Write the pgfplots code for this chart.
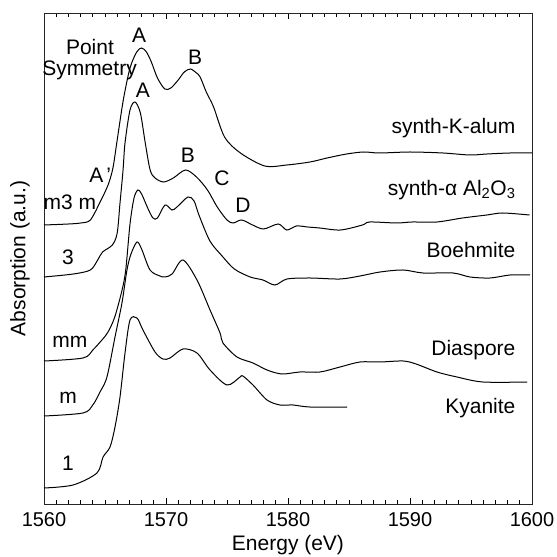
\documentclass[border=0pt]{standalone}
\usepackage{fontspec}
\setmainfont{Liberation Sans}
\usepackage{pgfplots}
\pgfplotsset{compat=1.18}
\begin{document}
\begin{tikzpicture}[font=\fontsize{21bp}{24bp}\selectfont]
\begin{axis}[
  scale only axis, width=488bp, height=491bp,
  at={(0,0)}, anchor=south west,
  xmin=1560, xmax=1600, ymin=0, ymax=491,
  xtick={1560,1570,1580,1590,1600},
  minor x tick num=9,
  ytick=\empty,
  tick align=inside,
  xtick pos=both,
  major tick length=6bp, minor tick length=4bp,
  every tick/.style={black, line width=0.7bp},
  axis line style={line width=0.9bp, black!85},
  /pgf/number format/1000 sep={},
  /pgf/number format/assume math mode=true,
  xticklabel style={yshift=-5bp, font=\fontsize{20bp}{23bp}\selectfont},
  clip=false,
  every axis plot post/.append style={black, line width=1bp, smooth, tension=0.5, mark=none},
]
% synth-K-alum
\addplot coordinates {
(1560,279)(1562,280)(1563,281)(1563.8,284)(1564.6,302)(1565.25,319)(1565.65,336)
(1566.0,364)(1566.5,404)(1567.05,436)(1567.6,452)(1568.0,456)(1568.4,452)(1568.8,442)
(1569.3,426)(1569.9,415)(1570.4,416)(1571.0,424)(1571.5,432)(1572.0,435)(1572.5,431)
(1572.8,427)(1573.3,412)(1573.9,397)(1574.8,367)(1576.1,351)(1578.1,338)(1579.9,339)
(1581.8,342)(1583.2,346)(1584.8,350)(1586.2,352)(1587.5,351)(1590.0,352)(1592.7,351)
(1594.9,349)(1596.3,350)(1598.2,351)(1600,351)};
% synth-alpha Al2O3
\addplot coordinates {
(1560,227)(1562.4,230)(1563.8,234)(1564.4,244)(1564.8,252)(1565.6,259)(1566.0,271)
(1566.23,301)(1566.48,334)(1566.64,361)(1567.05,394)(1567.46,402)(1567.9,391)(1568.3,361)
(1568.7,334)(1569.1,326)(1569.8,322)(1570.6,326)(1571.6,334)(1572.5,327)(1573.4,314)
(1574.2,297)(1575.0,284)(1575.5,281)(1576.2,284)(1577.1,279)(1578.0,275)(1579.2,280)
(1579.9,274)(1580.7,278)(1581.6,277)(1582.6,276)(1584.3,274)(1586.1,279)(1586.7,282)
(1588.9,281)(1590.2,282)(1592.2,282)(1594.3,286)(1596.3,289)(1597.6,291)(1599.8,289)};
% Boehmite
\addplot coordinates {
(1560,143)(1563.2,146)(1564.0,154)(1564.75,164)(1565.25,172)(1565.8,187)(1566.4,214)
(1566.7,234)(1567.05,280)(1567.38,306)(1567.7,314)(1568.0,310)(1568.5,296)(1568.93,286)
(1569.3,286)(1569.92,299)(1570.49,294)(1570.9,297)(1571.8,307)(1572.3,303)(1572.7,289)
(1573.6,263)(1574.6,248)(1575.6,235)(1576.9,227)(1577.95,224)(1578.93,219)(1579.92,225)
(1581.8,226)(1584.26,225)(1585.9,228)(1587.54,232)(1589.43,234)(1591.07,231)(1593.52,231)
(1594.92,227)(1596.56,226)(1598.2,229)(1599.84,229)};
% Diaspore
\addplot coordinates {
(1560,88)(1563.2,91)(1564.0,99)(1564.59,112)(1565.16,127)(1565.82,167)(1566.39,201)
(1566.8,234)(1567.13,250)(1567.62,262)(1568.0,255)(1568.69,234)(1569.5,228)(1569.92,227)
(1570.5,230)(1571.39,244)(1572.54,224)(1573.61,194)(1574.43,171)(1574.67,161)
(1575.82,147)(1577.13,141)(1578.28,134)(1579.5,130)(1580.98,132)(1582.62,132)(1584.26,137)
(1585.9,142)(1587.54,142)(1589.43,143)(1590.5,140)(1592.21,132)(1593.85,127)
(1595.98,122)(1599.6,122)};
% Kyanite
\addplot coordinates {
(1560,16)(1562.38,19)(1564.34,31)(1564.84,47)(1565.41,57)(1565.82,77)(1566.23,107)
(1566.64,151)(1567.05,184)(1567.62,186)(1568.11,174)(1569.1,152)(1569.75,145)(1570.33,146)
(1571.39,155)(1572.54,151)(1573.61,134)(1575.0,119)(1576.07,127)(1576.3,128)(1577.13,119)
(1578.28,104)(1579.34,99)(1580.41,99)(1581.8,97)(1584.84,97)};
% annotations
\node at (axis cs:1563.77,457) {Point};
\node at (axis cs:1563.73,434) {Symmetry};
\node at (axis cs:1567.79,469) {A};
\node at (axis cs:1572.38,447) {B};
\node at (axis cs:1568.11,414) {A};
\node at (axis cs:1571.8,349) {B};
\node at (axis cs:1574.59,326) {C};
\node at (axis cs:1576.31,299) {D};
\node at (axis cs:1564.6,329) {A\hspace{3bp}'};
\node at (axis cs:1562.13,302) {m3 m};
\node at (axis cs:1561.97,247) {3};
\node at (axis cs:1562.13,162) {mm};
\node at (axis cs:1561.97,106) {m};
\node at (axis cs:1561.97,41) {1};
\node[anchor=east] at (axis cs:1598.93,376) {synth-K-alum};
\node[anchor=east] at (axis cs:1598.93,314) {synth-α Al\textsubscript{2}O\textsubscript{3}};
\node[anchor=east] at (axis cs:1598.93,254) {Boehmite};
\node[anchor=east] at (axis cs:1598.93,154) {Diaspore};
\node[anchor=east] at (axis cs:1598.93,96) {Kyanite};
\node at ([yshift=-41bp]rel axis cs:0.5,0) {Energy (eV)};
\node[rotate=90] at ([xshift=-24bp]rel axis cs:0,0.5) {Absorption (a.u.)};
\end{axis}
\pgfresetboundingbox
\path[use as bounding box] (-44bp,-53bp) rectangle (513bp,504bp);
\end{tikzpicture}
\end{document}
